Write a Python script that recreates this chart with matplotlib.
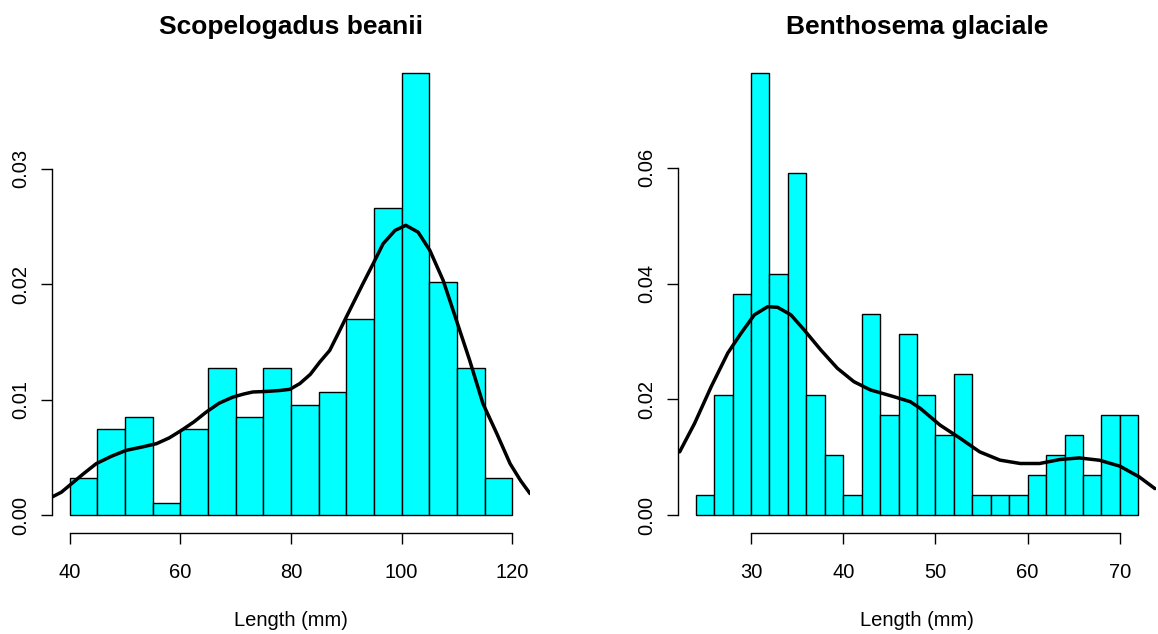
import matplotlib
matplotlib.use("Agg")
import matplotlib.pyplot as plt
import numpy as np

plt.rcParams['font.family'] = ['Liberation Sans', 'DejaVu Sans']

# ---- Scopelogadus beanii ----
left_title = "Scopelogadus beanii"
left_bins = [40, 45, 50, 55, 60, 65, 70, 75, 80, 85, 90, 95, 100, 105, 110, 115, 120]
left_counts = [3, 7, 8, 1, 7, 12, 8, 12, 9, 10, 16, 25, 36, 19, 12, 3]
left_dens_x = [36.8, 38.5, 40.0, 42.5, 44.8, 47.5, 50.2, 53.0, 55.7, 58.0, 60.2, 62.5,
               64.7, 67.0, 69.5, 71.5, 73.1, 75.6, 78.0, 79.8, 81.6, 83.5, 85.2,
               87.0, 88.5, 90.0, 91.5, 93.0, 94.85, 96.65, 98.8, 100.76, 102.98, 105.1,
               107.5, 109.9, 112.3, 114.7, 117.2, 119.6, 121.5, 123.2]
left_dens_y = [0.00158, 0.0020, 0.0026, 0.0036, 0.00447, 0.0051, 0.00562, 0.0059,
               0.0062, 0.0067, 0.00735, 0.0081, 0.00894, 0.0097, 0.01023, 0.0105,
               0.01067, 0.01072, 0.0108, 0.0109, 0.0114, 0.0122, 0.01326, 0.01427,
               0.0157, 0.01716, 0.0186, 0.02004, 0.02177, 0.0235, 0.02465, 0.02509,
               0.0245, 0.02292, 0.02033, 0.01687, 0.0134, 0.00966, 0.00707, 0.00447,
               0.0030, 0.00188]
left_xticks = [40, 60, 80, 100, 120]
left_yticks = [0.00, 0.01, 0.02, 0.03]

# ---- Benthosema glaciale ----
right_title = "Benthosema glaciale"
right_bins = list(range(24, 74, 2))
right_counts = [1, 6, 11, 22, 12, 17, 6, 3, 1, 10, 5, 9, 6, 4, 7, 1, 1, 1, 2, 3, 4, 2, 5, 5]
right_dens_x = [22.26, 23.88, 25.68, 27.48, 28.92, 30.36, 31.8, 32.88, 34.32, 35.76,
                37.56, 39.36, 41.16, 42.96, 45.5, 47.28, 48.36, 50.5, 52.7, 54.8,
                57.0, 59.2, 61.3, 63.5, 65.6, 67.8, 70.0, 72.1, 73.8]
right_dens_y = [0.01095, 0.01587, 0.0222, 0.028, 0.03143, 0.0346, 0.0360, 0.0359,
                0.0346, 0.0320, 0.02855, 0.02538, 0.02306, 0.02163, 0.02047, 0.0196,
                0.01845, 0.01557, 0.01327, 0.01095, 0.00952, 0.00894, 0.00894, 0.00963,
                0.0099, 0.0095, 0.00848, 0.00663, 0.00461]
right_xticks = [30, 40, 50, 60, 70]
right_yticks = [0.00, 0.02, 0.04, 0.06]

xlabel = "Length (mm)"

W, H = 1158, 634
fig = plt.figure(figsize=(W / 100, H / 100), dpi=100)

FS = 14.5

def panel(rect, title, bins, counts, dx, dy, xticks, yticks, ylabels):
    ax = fig.add_axes(rect)
    bins = np.asarray(bins, float)
    centers = (bins[:-1] + bins[1:]) / 2
    n, _, _ = ax.hist(centers, bins=bins, weights=counts, density=True,
                      facecolor='#00FFFF', edgecolor='black', linewidth=1.0)
    ax.plot(dx, dy, color='black', lw=2.5, solid_joinstyle='round',
            solid_capstyle='round', clip_on=True)
    ymax = n.max()
    span = bins[-1] - bins[0]
    ax.set_xlim(bins[0] - 0.04 * span, bins[-1] + 0.04 * span)
    ax.set_ylim(-0.04 * ymax, 1.04 * ymax)
    for s in ['top', 'right']:
        ax.spines[s].set_visible(False)
    ax.spines['left'].set_bounds(yticks[0], yticks[-1])
    ax.spines['bottom'].set_bounds(xticks[0], xticks[-1])
    for s in ['left', 'bottom']:
        ax.spines[s].set_linewidth(1.0)
    ax.set_xticks(xticks)
    ax.set_xticklabels([str(t) for t in xticks], fontsize=FS)
    ax.set_yticks(yticks)
    ax.set_yticklabels(ylabels, fontsize=FS, rotation=90, va='center')
    ax.tick_params(axis='both', direction='out', length=7.7, width=1.0)
    ax.tick_params(axis='x', pad=14)
    ax.tick_params(axis='y', pad=8)
    ax.set_title(title, fontsize=19, fontweight='bold', pad=15)
    ax.set_xlabel(xlabel, fontsize=FS, labelpad=21)
    ax.patch.set_visible(False)
    return ax

ax_h = 478 / H
ax_b = (H - 533) / H
panel([52 / W, ax_b, 478 / W, ax_h], left_title, left_bins, left_counts,
      left_dens_x, left_dens_y, left_xticks, left_yticks,
      ["0.00", "0.01", "0.02", "0.03"])
panel([678 / W, ax_b, 478 / W, ax_h], right_title, right_bins, right_counts,
      right_dens_x, right_dens_y, right_xticks, right_yticks,
      ["0.00", "0.02", "0.04", "0.06"])

fig.savefig("out.png", dpi=100, facecolor='white')
